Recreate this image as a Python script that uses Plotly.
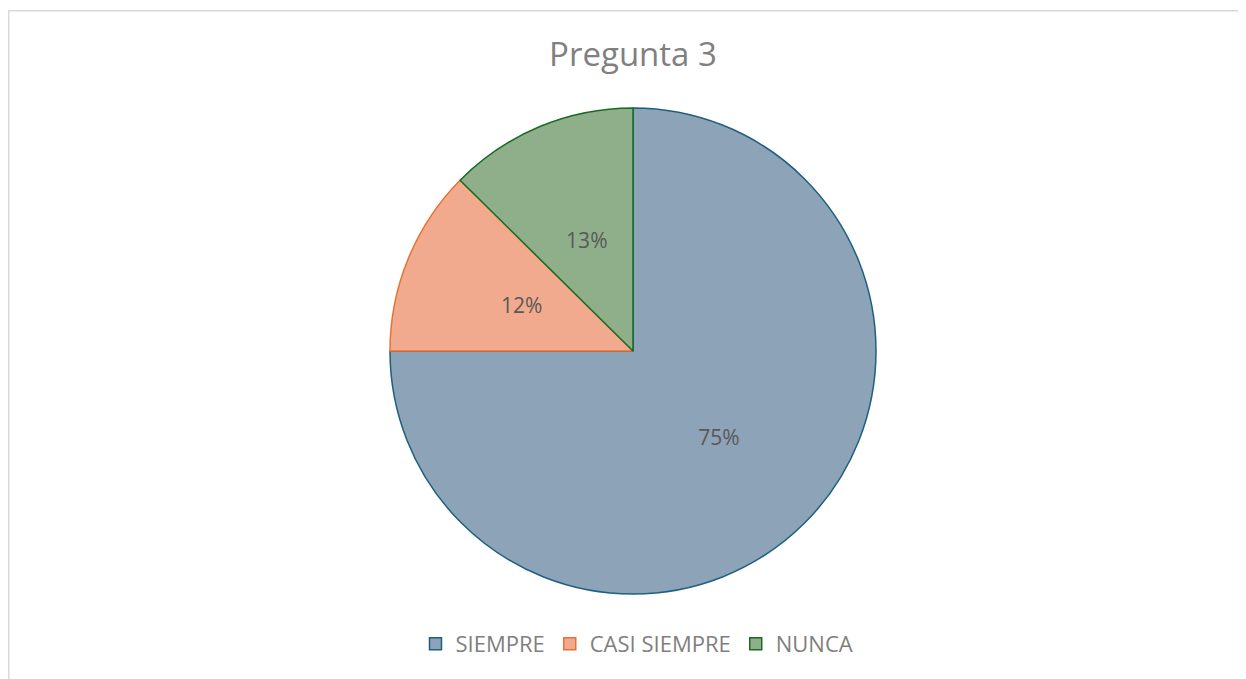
import plotly.graph_objects as go

categories = ["SIEMPRE", "CASI SIEMPRE", "NUNCA"]
values = [75.0, 12.4, 12.6]
fill_colors = ["#8da3b7", "#f2aa8e", "#8faf8b"]
line_colors = ["#1f5f7f", "#e97132", "#196b24"]

# figure is drawn inside the page's 8px body margin
W, H = 1238, 671
cx, cy, r = 625, 343, 243
r_lbl = 166  # radius of the transparent label-only overlay pie

FONT = "Open Sans, sans-serif"


def dom(rad):
    return dict(x=[(cx - rad) / W, (cx + rad) / W], y=[(H - cy - rad) / H, (H - cy + rad) / H])


fig = go.Figure()
fig.add_trace(go.Pie(
    labels=categories,
    values=values,
    sort=False,
    direction="clockwise",
    rotation=0,
    marker=dict(colors=fill_colors, line=dict(color=line_colors, width=1.5)),
    texttemplate=["%{percent:.0%}", " ", " "],
    textposition="inside",
    insidetextorientation="horizontal",
    textfont=dict(family=FONT, size=21, color="#595959"),
    domain=dom(r),
    hoverinfo="label+percent",
))
# label-only overlay so the small slices' labels sit nearer the centre
fig.add_trace(go.Pie(
    labels=categories,
    values=values,
    sort=False,
    direction="clockwise",
    rotation=0,
    marker=dict(colors=["rgba(0,0,0,0)"] * 3, line=dict(width=0)),
    texttemplate=[" ", "%{percent:.0%}", "%{percent:.0%}"],
    textposition="inside",
    insidetextorientation="horizontal",
    textfont=dict(family=FONT, size=21, color="#595959"),
    domain=dom(r_lbl),
    showlegend=False,
    hoverinfo="skip",
))

fig.update_layout(
    width=W, height=H,
    margin=dict(l=0, r=0, t=0, b=0),
    paper_bgcolor="white",
    plot_bgcolor="white",
    title=dict(text="Pregunta 3", x=625 / W, xanchor="center", y=1 - 46 / H, yanchor="middle",
               font=dict(family=FONT, size=33, color="#808080")),
    legend=dict(orientation="h", x=629 / W, xanchor="center", y=(H - 636) / H, yanchor="middle",
                font=dict(family=FONT, size=22, color="#7f7f7f"),
                itemwidth=30, traceorder="normal"),
    shapes=[dict(type="rect", xref="paper", yref="paper", x0=0.75 / W, x1=1.02, y0=-0.02, y1=1 - 2.75 / H,
                 line=dict(color="#d9d9d9", width=1.5), fillcolor="rgba(0,0,0,0)", layer="below")],
)

fig.write_html("out.html")
